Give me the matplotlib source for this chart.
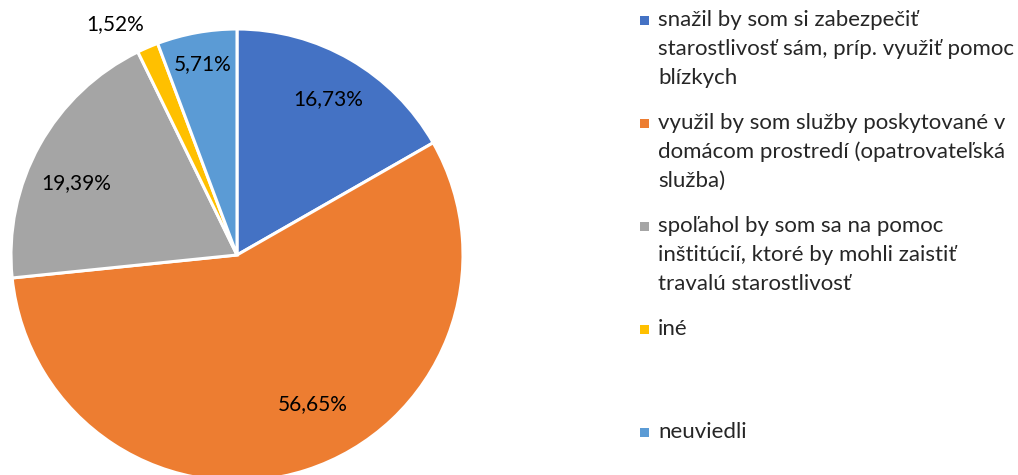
import numpy as np
import matplotlib.pyplot as plt
from matplotlib.patches import Rectangle

labels = ['snažil by som si zabezpečiť\nstarostlivosť sám, príp. využiť pomoc\nblízkych',
          'využil by som služby poskytované v\ndomácom prostredí (opatrovateľská\nslužba)',
          'spoľahol by som sa na pomoc\ninštitúcií, ktoré by mohli zaistiť\ntravalú starostlivosť',
          'iné',
          'neuviedli']
values = [16.73, 56.65, 19.39, 1.52, 5.71]
colors = ['#4472C4', '#ED7D31', '#A5A5A5', '#FFC000', '#5B9BD5']

# label placement (radius fraction, angle shift in deg) - tuned by eye
lab_dist = [0.80, 0.74, 0.78, 1.155, 0.86]
lab_shift = [0, 9, 5, 4.5, 0]

plt.rcParams['font.family'] = ['Lato', 'DejaVu Sans']
fs_pie = 15
fs_leg = 16

W, H = 1018, 475
fig = plt.figure(figsize=(W / 100, H / 100), dpi=100)

cx, cy, R = 237, 255, 226
ax = fig.add_axes([(cx - R) / W, (H - cy - R) / H, 2 * R / W, 2 * R / H])
wedges, _ = ax.pie(values, colors=colors, startangle=90, counterclock=False,
                   radius=1, wedgeprops=dict(edgecolor='white', linewidth=2.2))
ax.set_xlim(-1, 1)
ax.set_ylim(-1, 1)
ax.set_aspect('equal')
ax.axis('off')

for w, v, d, s in zip(wedges, values, lab_dist, lab_shift):
    th = np.radians((w.theta1 + w.theta2) / 2 + s)
    txt = ('%.2f%%' % v).replace('.', ',')
    ax.text(d * np.cos(th), d * np.sin(th), txt, ha='center', va='center',
            fontsize=fs_pie, color='black', clip_on=False)

# legend drawn by hand: equal slots, marker on first line
x_mark, x_txt = 640, 658
y0, slot, line_h = 20, 103, 29
for i, (lab, c) in enumerate(zip(labels, colors)):
    yy = y0 + slot * i
    fig.add_artist(Rectangle(((x_mark) / W, (H - yy - 4.5) / H), 9 / W, 9 / H,
                             transform=fig.transFigure, facecolor=c, edgecolor='none'))
    for j, line in enumerate(lab.split('\n')):
        fig.text(x_txt / W, (H - yy - line_h * j) / H, line, ha='left',
                 va='center', fontsize=fs_leg, color='#262626')

fig.savefig('out.png', dpi=100)
